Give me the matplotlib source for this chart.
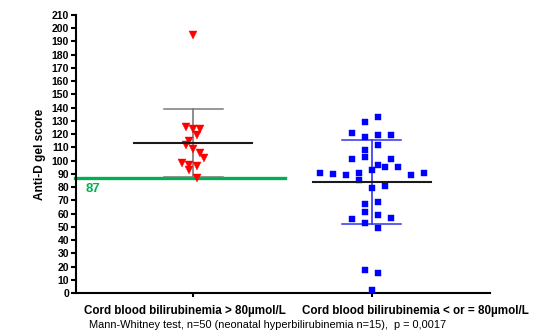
"""Anti-D gel score by cord blood bilirubinemia group (scatter dot plot, mean +/- SD)."""

import numpy as np
import matplotlib
matplotlib.use("Agg")
import matplotlib.pyplot as plt

# --- data ---
groups = ["Cord blood bilirubinemia > 80µmol/L",
          "Cord blood bilirubinemia < or = 80µmol/L"]

high_scores = [195, 125, 124, 124, 119, 115, 112, 109, 106, 102, 98, 97, 96, 93, 87]
high_slots = [0, -2, 0, 2, 1, -1, -2, 0, 2, 3, -3, -1, 1, -1, 1]

low_scores = [133, 129, 121, 118, 119, 119, 112, 108, 103, 101, 101, 97, 95, 95, 93,
              91, 90, 89, 91, 89, 91, 85, 79, 81, 69, 67, 61, 59, 56, 57, 53, 49,
              17, 15, 2]
low_slots = [1, -1, -3, -1, 1, 3, 1, -1, -1, -3, 3, 1, 2, 4, 0,
             -8, -6, -4, -2, 6, 8, -2, 0, 2, 1, -1, -1, 1, -3, 3, -1, 1,
             -1, 1, 0]

cutoff = 87
yticks = list(range(0, 211, 10))
footnote = "Mann-Whitney test, n=50 (neonatal hyperbilirubinemia n=15),  p = 0,0017"

plt.rcParams["font.family"] = ["Liberation Sans", "DejaVu Sans"]

fig = plt.figure(figsize=(5.42, 3.32), dpi=100)
ax = fig.add_axes([0.140, 0.1175, 0.764, 0.8375])

RED = "#ff0000"
BLUE = "#0000ff"


def draw_group(x0, scores, slots, step, marker, color, bar_color, ms):
    scores = np.asarray(scores, dtype=float)
    xs = x0 + np.asarray(slots) * step
    m = scores.mean()
    sd = scores.std(ddof=1)
    # SD bar with caps
    ax.plot([x0, x0], [m - sd, m + sd], color=bar_color, lw=1.2, zorder=2)
    for y in (m - sd, m + sd):
        ax.plot([x0 - 0.165, x0 + 0.165], [y, y], color=bar_color, lw=1.1, zorder=2)
    ax.plot(xs, scores, linestyle="none", marker=marker, ms=ms, color=color,
            markeredgecolor=color, markeredgewidth=0.3, zorder=3)
    # mean line
    ax.plot([x0 - 0.33, x0 + 0.33], [m, m], color="#1a1a1a", lw=1.5, zorder=4)


draw_group(0, high_scores, high_slots, 0.0205, "v", RED, "#7a7a7a", 5.8)
draw_group(1, low_scores, low_slots, 0.0365, "s", BLUE, "#3333ee", 4.9)

# cut-off line
ax.plot([-0.66, 0.514], [cutoff, cutoff], color="#00b050", lw=2.4, zorder=1,
        clip_on=False)
ax.text(-0.605, cutoff - 4, str(cutoff), color="#00b050", fontsize=9.5,
        fontweight="bold", ha="left", va="top")

ax.set_xlim(-0.657, 1.663)
ax.set_ylim(0, 210)
ax.set_yticks(yticks)
ax.set_yticklabels([str(t) for t in yticks], fontsize=7.5, fontweight="bold")
ax.set_xticks([0, 1])
ax.set_xticklabels([])
ax.set_ylabel("Anti-D gel score", fontsize=8.6, fontweight="bold", labelpad=4)

for side in ("top", "right"):
    ax.spines[side].set_visible(False)
for side in ("left", "bottom"):
    ax.spines[side].set_linewidth(1.5)
ax.tick_params(axis="y", length=3.5, width=1.5, pad=1.5)
ax.tick_params(axis="x", length=3, width=1.5)

# group labels, placed so they do not run into each other
trans = ax.get_xaxis_transform()
ax.text(-0.048, -0.042, groups[0], transform=trans, ha="center", va="top",
        fontsize=8.4, fontweight="bold")
ax.text(1.247, -0.042, groups[1], transform=trans, ha="center", va="top",
        fontsize=8.4, fontweight="bold")

fig.text(89 / 542, 1 - 325 / 332, footnote, fontsize=7.9, ha="left", va="center")

fig.savefig("out.png", dpi=100)
